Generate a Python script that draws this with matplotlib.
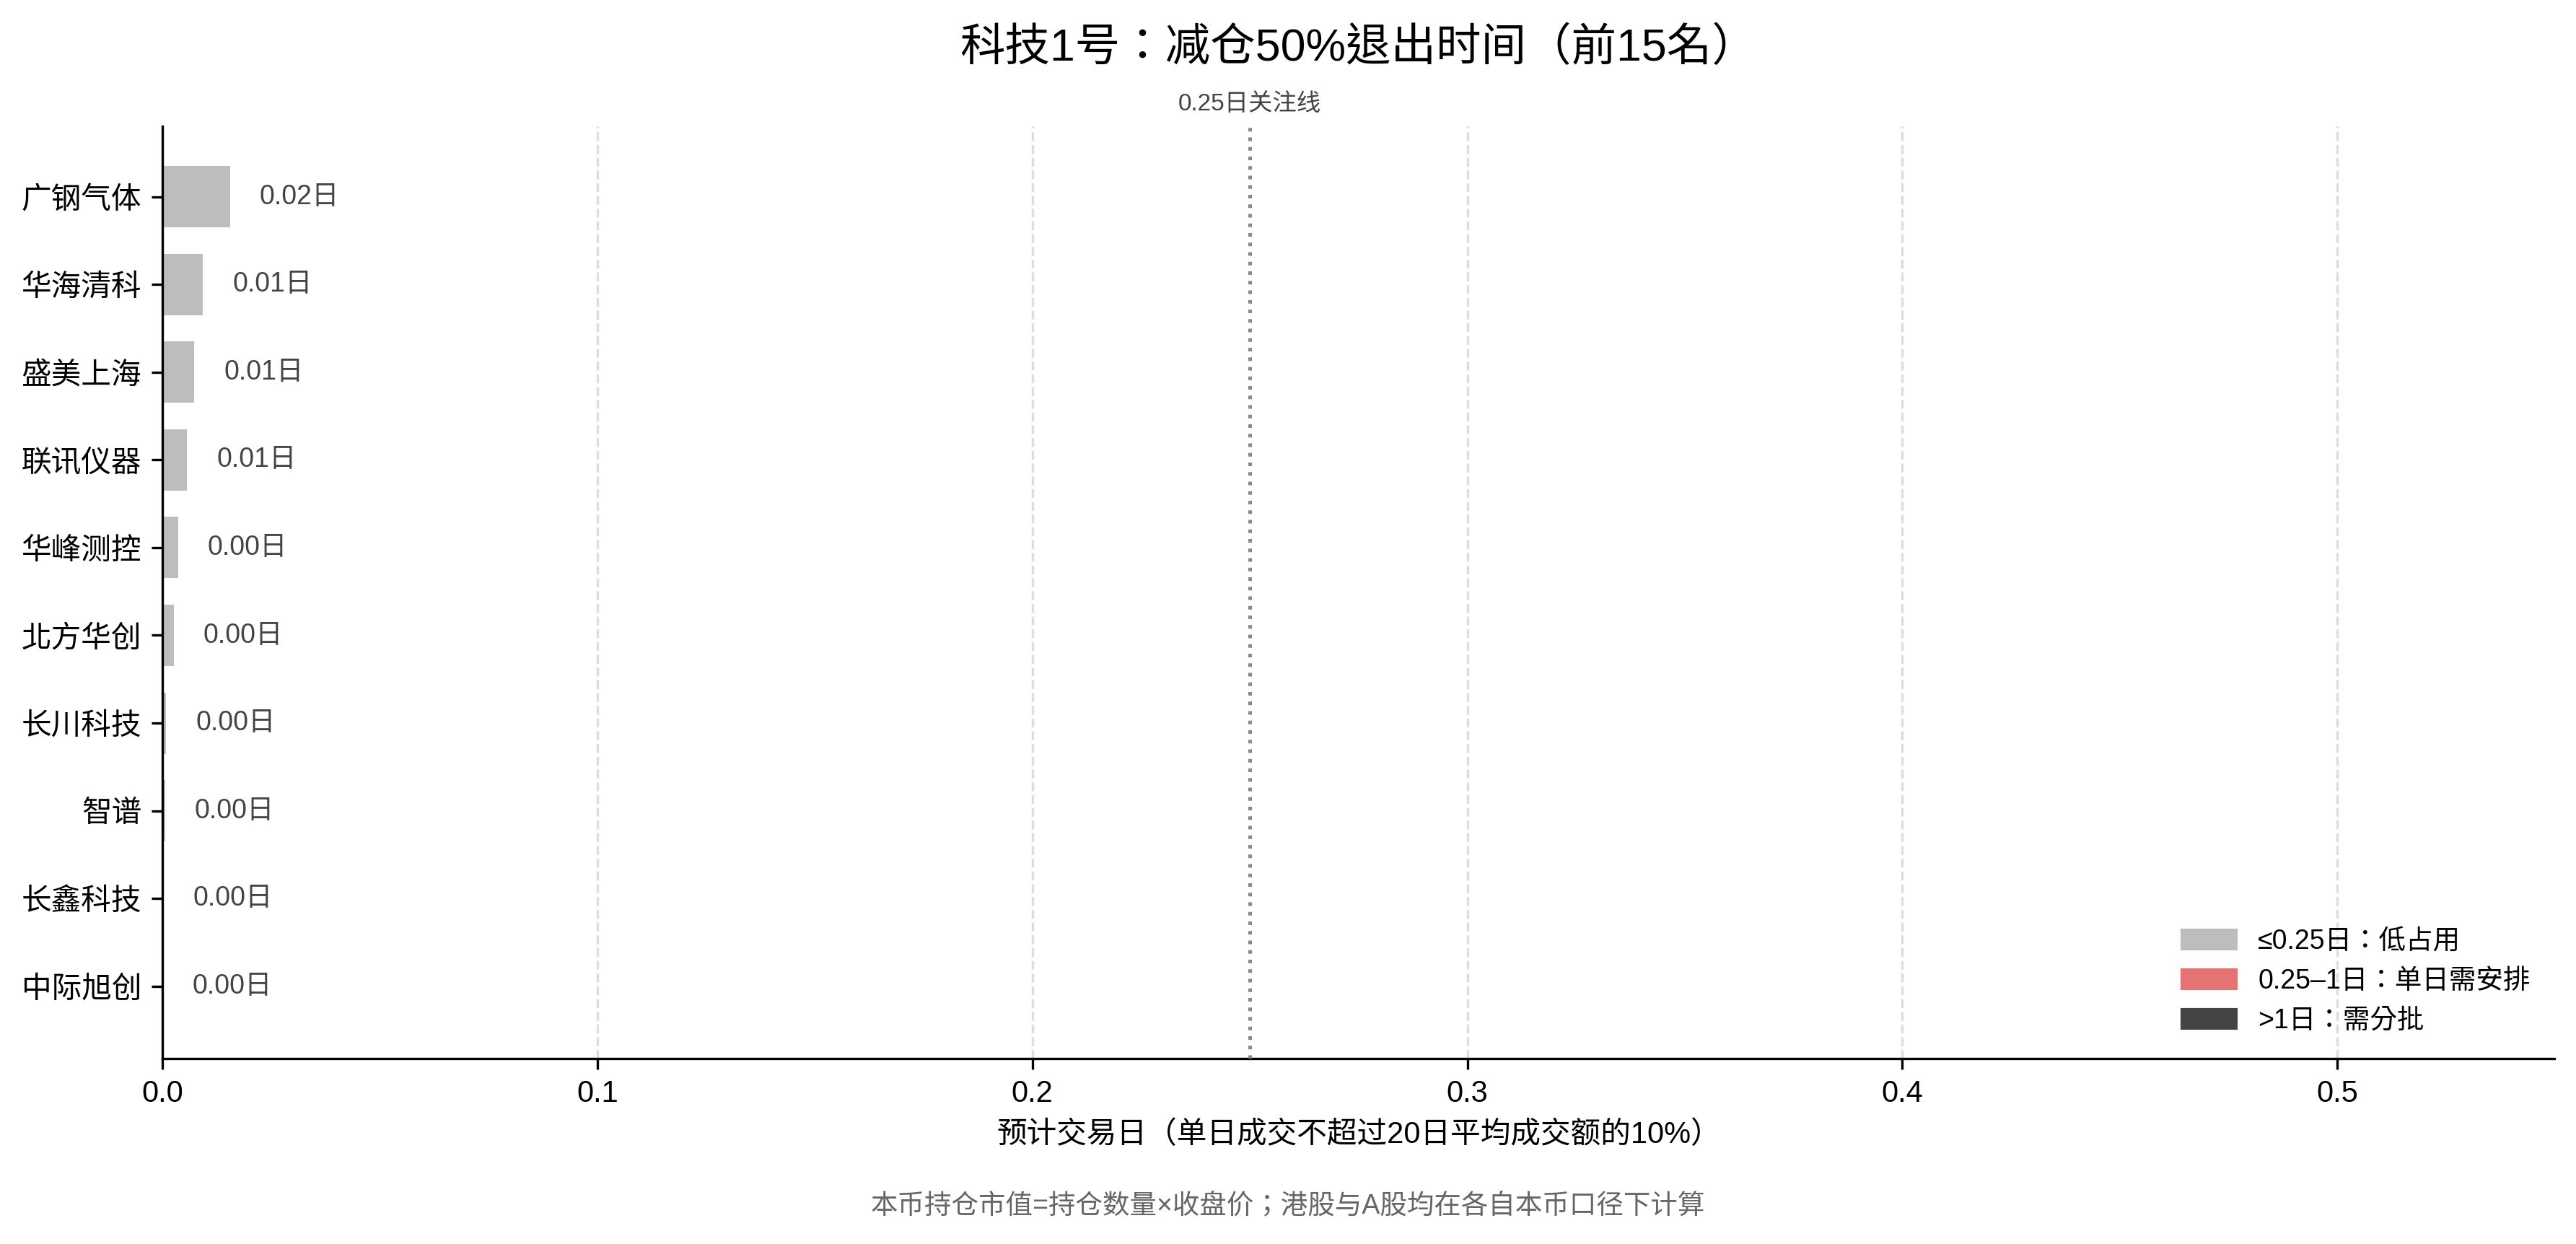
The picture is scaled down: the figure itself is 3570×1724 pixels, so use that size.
import matplotlib
matplotlib.use('Agg')
import matplotlib.pyplot as plt
from matplotlib.patches import Patch

plt.rcParams['font.family'] = ['Liberation Sans', 'Noto Sans CJK TC', 'DejaVu Sans']
plt.rcParams['axes.unicode_minus'] = False

# 数据
names = ['广钢气体', '华海清科', '盛美上海', '联讯仪器', '华峰测控',
         '北方华创', '长川科技', '智谱', '长鑫科技', '中际旭创']
days = [0.0155, 0.0093, 0.0073, 0.0056, 0.0036,
        0.0026, 0.0008, 0.0006, 0.0002, 0.0001]
threshold = 0.25

c_low = '#bdbdbd'
c_mid = '#e57373'
c_high = '#444444'

def color_of(v):
    if v <= threshold:
        return c_low
    if v <= 1:
        return c_mid
    return c_high

fig = plt.figure(figsize=(11.9, 5.747), dpi=300)
ax = fig.add_axes([0.0631, 0.1493, 0.9286, 0.749])

ypos = list(range(len(names)))
ax.barh(ypos, days, height=0.7, color=[color_of(v) for v in days], zorder=2)
ax.set_yticks(ypos)
ax.set_yticklabels(names, fontsize=10)
ax.set_ylim(len(names) - 1 + 0.82, -0.8)
ax.set_xlim(0, 0.55)
ax.tick_params(axis='x', labelsize=10)

for y, v in zip(ypos, days):
    ax.text(v + 0.0068, y, f'{v:.2f}日', va='center', ha='left',
            fontsize=9, color='#444444')

ax.axvline(threshold, color='#888888', linestyle=':', linewidth=1.2, zorder=3)
ax.text(threshold, 1.012, '0.25日关注线', transform=ax.get_xaxis_transform(),
        ha='center', va='bottom', fontsize=8, color='#444444')

ax.grid(axis='x', linestyle='--', color='#dddddd', linewidth=0.8)
ax.set_axisbelow(True)
ax.spines['top'].set_visible(False)
ax.spines['right'].set_visible(False)

ax.set_title('科技1号：减仓50%退出时间（前15名）', fontsize=15, pad=22)
ax.set_xlabel('预计交易日（单日成交不超过20日平均成交额的10%）', fontsize=10)

handles = [Patch(color=c_low, label='≤0.25日：低占用'),
           Patch(color=c_mid, label='0.25–1日：单日需安排'),
           Patch(color=c_high, label='>1日：需分批')]
ax.legend(handles=handles, loc='lower right', frameon=False, fontsize=9)

fig.text(0.5, 0.0304, '本币持仓市值=持仓数量×收盘价；港股与A股均在各自本币口径下计算',
         ha='center', va='center', fontsize=9, color='#666666')

fig.savefig('out.png', dpi=300)
